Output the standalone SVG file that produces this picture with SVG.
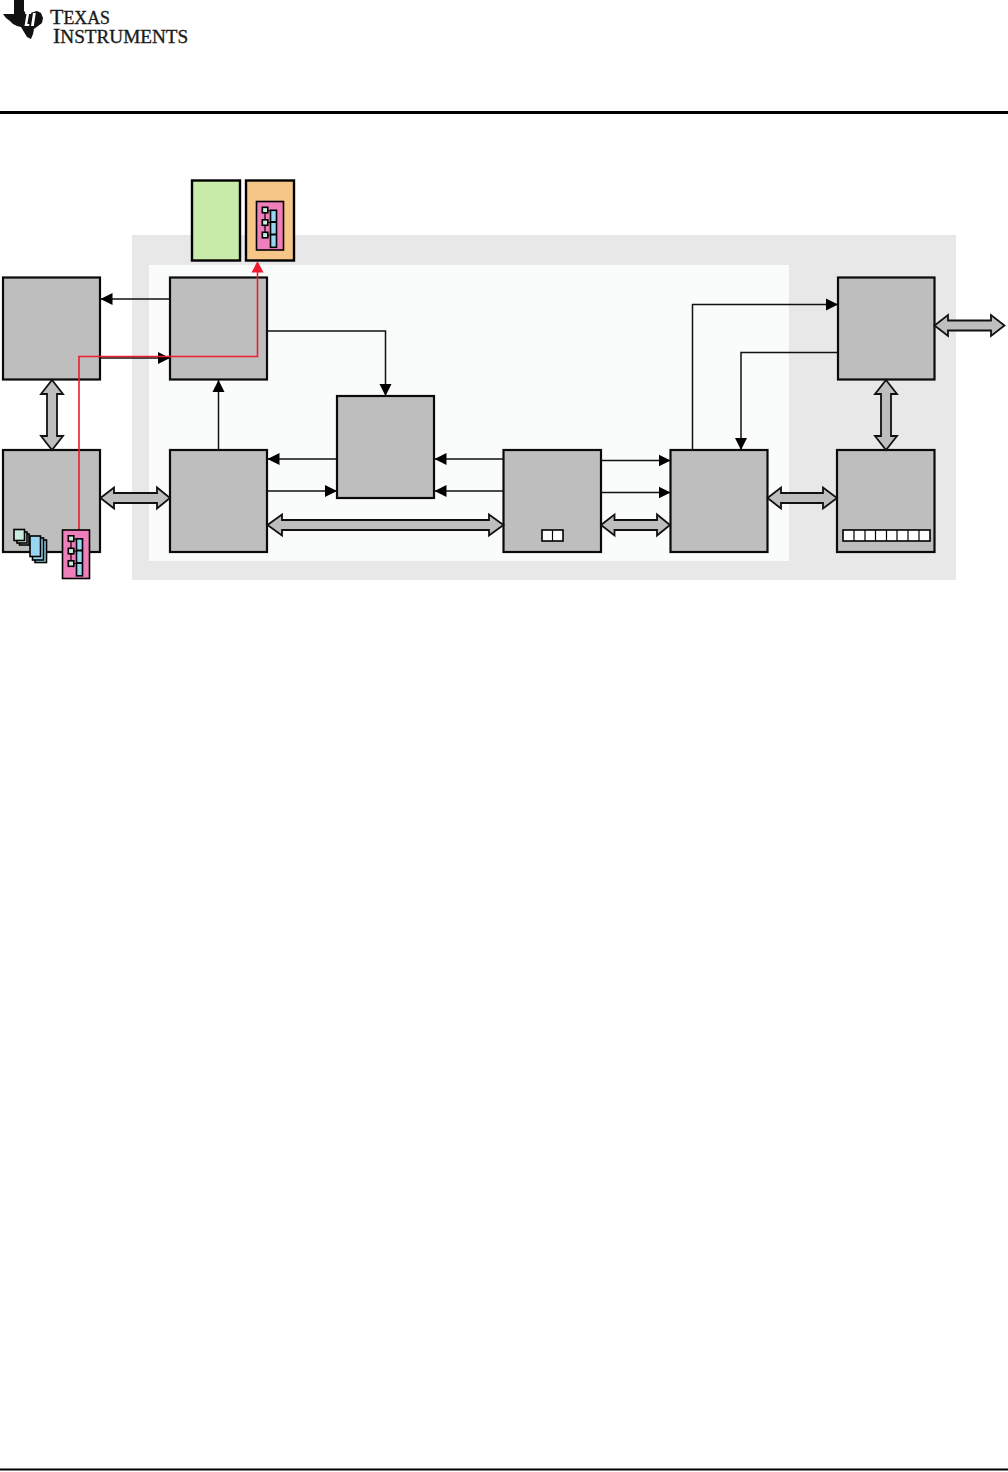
<svg xmlns="http://www.w3.org/2000/svg" width="1008" height="1472" viewBox="0 0 1008 1472">
<style>
.block{fill:#bebebe;stroke:#0a0a0a;stroke-width:2.2}
.wire{fill:none;stroke:#111;stroke-width:1.5}
.bus{fill:#bebebe;stroke:#111;stroke-width:1.8;stroke-linejoin:miter}
.logo{font-family:"Liberation Serif",serif;fill:#1a1a1a;stroke:#1a1a1a;stroke-width:.35}
.sq{fill:#c6ecdc;stroke:#000;stroke-width:1.6}
.bar{fill:#97d6f0;stroke:#000;stroke-width:1.6}
.cell{fill:#fff;stroke:#000;stroke-width:1.6}
.pink{fill:#ef7fba;stroke:#000;stroke-width:1.6}
</style>
<defs>
<marker id="ah" markerUnits="userSpaceOnUse" markerWidth="13" markerHeight="13" refX="12" refY="6.500" orient="auto"><path d="M0 .5L12 6.500L0 12.500Z" fill="#000"/></marker>
<g id="fabric">
<rect x="0" y="0" width="27" height="48.500" class="pink"/>
<path d="M8.500 9V36M9 9H17M9 21H17M9 33.500H17" fill="none" stroke="#000" stroke-width="1.200"/>
<rect x="5.800" y="5.800" width="5.500" height="5.500" class="sq"/>
<rect x="5.800" y="18.300" width="5.500" height="5.500" class="sq"/>
<rect x="5.800" y="30.800" width="5.500" height="5.500" class="sq"/>
<rect x="14" y="8.800" width="6" height="37" class="bar"/>
<path d="M14 20.500H20M14 33H20" stroke="#000" stroke-width="2.200"/>
</g>
</defs>
<g id="page">
<rect x="0" y="111" width="1008" height="3" fill="#000"/>
<rect x="0" y="1468.500" width="1008" height="2" fill="#000"/>
</g>
<g id="logo">
<path d="M14 0H24V11L27 14L37 11L41 13L43 18L42 23L38 26L34 29L33 34L31 39L27 37L24 32L21 27L17 26L13 24L10 21L6 18L3 14H14Z" fill="#111"/>
<path d="M27.500 9H30L29.500 12H31.500L31 14H29.100L27.300 24H29.500L29.100 26H24.500L26.500 14H25L25.400 12H27ZM33 13H35.800L33.800 26H31Z" fill="#fff"/>
<text class="logo" font-size="22"><tspan x="50" y="24">T</tspan><tspan font-size="17.800">EXAS</tspan><tspan x="53" y="43">I</tspan><tspan font-size="19.200">NSTRUMENTS</tspan></text>
</g>
<g id="backgrounds">
<rect x="132" y="235" width="824" height="345" fill="#e8e8e8"/>
<rect x="149" y="265" width="640" height="296" fill="#fafcfb"/>
</g>
<g id="node-green"><rect x="192" y="180.500" width="48" height="80" fill="#c9ebaa" stroke="#000" stroke-width="2.400"/></g>
<g id="node-orange">
<rect x="246" y="180.500" width="48" height="80" fill="#f6c688" stroke="#000" stroke-width="2.400"/>
<use href="#fabric" x="256.500" y="201.500"/>
</g>
<g id="node-left-top"><rect x="3" y="277.500" width="97" height="102" class="block"/></g>
<g id="node-left-bottom">
<rect x="3" y="450" width="97" height="102" class="block"/>
</g>
<g id="node-b1"><rect x="170" y="277.500" width="97" height="102" class="block"/></g>
<g id="node-b2"><rect x="170" y="450" width="97" height="102" class="block"/></g>
<g id="node-center"><rect x="337" y="396" width="97" height="102" class="block"/></g>
<g id="node-c2">
<rect x="503.500" y="450" width="97.500" height="102" class="block"/>
<rect x="542" y="530" width="21" height="11" class="cell"/><path d="M552.500 530V541" stroke="#000" stroke-width="1.200"/>
</g>
<g id="node-c3"><rect x="670.500" y="450" width="97" height="102" class="block"/></g>
<g id="node-right-top"><rect x="838" y="277.500" width="96.500" height="102" class="block"/></g>
<g id="node-right-bottom">
<rect x="837" y="450" width="97.500" height="102" class="block"/>
<rect x="843" y="530" width="87" height="11" class="cell"/>
<path d="M854 530V541M865 530V541M875.500 530V541M886.500 530V541M897 530V541M908 530V541M919 530V541" stroke="#000" stroke-width="1.200"/>
</g>
<g id="connectors">
<path class="wire" marker-end="url(#ah)" d="M170 299H100.500"/>
<path class="wire" marker-end="url(#ah)" d="M100 358H170"/>
<path class="wire" marker-end="url(#ah)" d="M218.500 450V380"/>
<path class="wire" marker-end="url(#ah)" d="M267 331H385.500V396"/>
<path class="wire" marker-end="url(#ah)" d="M337 459H267.500"/>
<path class="wire" marker-end="url(#ah)" d="M267 491H337"/>
<path class="wire" marker-end="url(#ah)" d="M504 459H434.500"/>
<path class="wire" marker-end="url(#ah)" d="M504 491H434.500"/>
<path class="wire" marker-end="url(#ah)" d="M601 460.500H670.500"/>
<path class="wire" marker-end="url(#ah)" d="M601 492.500H670.500"/>
<path class="wire" marker-end="url(#ah)" d="M692.500 450V304.500H838"/>
<path class="wire" marker-end="url(#ah)" d="M838 352.500H741V450"/>
<path class="bus" d="M52 380L63 394H57V436H63L52 450L41 436H47V394H41Z"/>
<path class="bus" d="M886 380L897 394H891V436H897L886 450L875 436H881V394H875Z"/>
<path class="bus" d="M100.500 498L114 487.500V493H157V487.500L170 498L157 508.500V503H114V508.500Z"/>
<path class="bus" d="M267.500 525L282 514.500V520H489V514.500L503.500 525L489 535.500V530H282V535.500Z"/>
<path class="bus" d="M601 525L614.500 514.500V520H657V514.500L670 525L657 535.500V530H614.500V535.500Z"/>
<path class="bus" d="M767.500 498L781 487.500V493H823V487.500L837 498L823 508.500V503H781V508.500Z"/>
<path class="bus" d="M934.500 325.500L948 315V320.500H991V315L1004.500 325.500L991 336V330.500H948V336Z"/>
<path d="M79 530V356.500H257.500V272" fill="none" stroke="#ee1c2e" stroke-width="1.600"/>
<path d="M257.500 261L263.500 272.500H251.500Z" fill="#ee1c2e"/>
</g>
<g id="node-memory-stack">
<rect x="19.500" y="534" width="9.500" height="11" class="sq" stroke-width="1.200"/>
<rect x="17" y="532" width="10" height="11" class="sq" stroke-width="1.200"/>
<rect x="14" y="529.500" width="10.500" height="11" class="sq" stroke-width="2"/>
<rect x="35" y="540" width="11.500" height="22.500" class="bar" stroke-width="1.200"/>
<rect x="32.500" y="538" width="11" height="22" class="bar" stroke-width="1.200"/>
<rect x="30" y="536" width="10.500" height="20.500" class="bar" stroke-width="2"/>
</g>
<g id="node-fabric-left"><use href="#fabric" x="62.500" y="530"/></g>
</svg>
